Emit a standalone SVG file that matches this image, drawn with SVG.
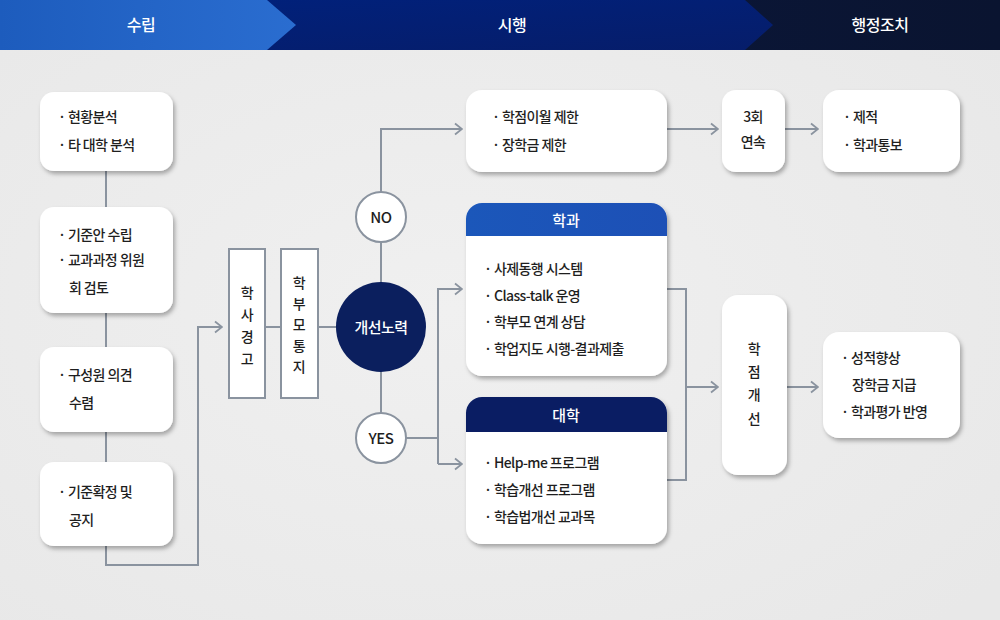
<svg xmlns="http://www.w3.org/2000/svg" width="1000" height="620" viewBox="0 0 1000 620">
<style>
text{font-family:"Noto Sans CJK KR","Noto Sans",sans-serif;}
.t{font-size:14px;font-weight:500;fill:#1e1e1e;letter-spacing:-0.6px;}
.c{text-anchor:middle;}
.h{font-size:16px;font-weight:500;fill:#ffffff;text-anchor:middle;letter-spacing:-0.5px;}
.box{fill:#ffffff;filter:url(#sh);}
.vr{fill:#ffffff;stroke:#8a939f;stroke-width:2;}
.yn{fill:#ffffff;stroke:#8a939f;stroke-width:2;}
.ln{fill:none;stroke:#8a939f;stroke-width:2;}
.ar{marker-end:url(#arr);}
</style>
<defs>
<linearGradient id="g1" x1="0" y1="0" x2="1" y2="0"><stop offset="0" stop-color="#1d5cbd"/><stop offset="1" stop-color="#2a6dd0"/></linearGradient>
<linearGradient id="g2" x1="0" y1="0" x2="1" y2="1"><stop offset="0" stop-color="#00217d"/><stop offset="1" stop-color="#061d6a"/></linearGradient>
<linearGradient id="g3" x1="0" y1="0" x2="1" y2="0"><stop offset="0" stop-color="#0b1a45"/><stop offset="1" stop-color="#0a1430"/></linearGradient>
<radialGradient id="bg" cx="0.45" cy="0.5" r="0.7"><stop offset="0" stop-color="#f0f0f0"/><stop offset="1" stop-color="#e8e8e8"/></radialGradient>
<linearGradient id="hb" x1="0" y1="0" x2="1" y2="0"><stop offset="0" stop-color="#1b57ba"/><stop offset="1" stop-color="#1d50b6"/></linearGradient>
<filter id="sh" x="-10%" y="-10%" width="125%" height="130%"><feDropShadow dx="2" dy="3" stdDeviation="2" flood-color="#000" flood-opacity="0.3"/></filter>
<marker id="arr" viewBox="0 0 10 14" refX="9" refY="7" markerWidth="10" markerHeight="14" markerUnits="userSpaceOnUse" orient="auto"><path d="M2,1.5 L9,7 L2,12.5" fill="none" stroke="#8a939f" stroke-width="1.8"/></marker>
<clipPath id="cTop1"><rect x="466" y="203" width="201" height="173" rx="16"/></clipPath>
<clipPath id="cTop2"><rect x="466" y="397" width="201" height="147" rx="16"/></clipPath>
</defs>
<rect width="1000" height="620" fill="url(#bg)"/>
<g id="header">
<rect x="0" y="0" width="1000" height="50" fill="url(#g3)"/>
<polygon points="0,0 745,0 773,25 745,50 0,50" fill="url(#g2)"/>
<polygon points="0,0 267,0 296,25 267,50 0,50" fill="url(#g1)"/>
<text class="h" x="141" y="31">수립</text>
<text class="h" x="512" y="31">시행</text>
<text class="h" x="880" y="31">행정조치</text>
</g>
<g id="connectors">
<path class="ln ar" d="M106,171 V565 H198 V327 H222"/>
<path class="ln" d="M264,327 H281 M318,327 H340"/>
<path class="ln" d="M381,192 V413"/>
<path class="ln ar" d="M381,192 V129 H462"/>
<path class="ln ar" d="M667,129 H718"/>
<path class="ln ar" d="M785,129 H818"/>
<path class="ln" d="M406,438 H438"/>
<path class="ln ar" d="M438,464 V289 H462"/>
<path class="ln ar" d="M438,464 H462"/>
<path class="ln" d="M667,289 H686 V480 H667"/>
<path class="ln ar" d="M686,387 H718"/>
<path class="ln ar" d="M787,387 H818"/>
</g>
<g id="n1"><rect class="box" x="40" y="92" width="133" height="79" rx="14"/>
<text class="t" x="58" y="122">· 현황분석</text><text class="t" x="58" y="150">· 타 대학 분석</text></g>
<g id="n2"><rect class="box" x="40" y="207" width="133" height="106" rx="14"/>
<text class="t" x="58" y="240">· 기준안 수립</text><text class="t" x="58" y="265">· 교과과정 위원</text><text class="t" x="69" y="293">회 검토</text></g>
<g id="n3"><rect class="box" x="40" y="347" width="133" height="85" rx="14"/>
<text class="t" x="58" y="380">· 구성원 의견</text><text class="t" x="69" y="408">수렴</text></g>
<g id="n4"><rect class="box" x="40" y="462" width="133" height="84" rx="14"/>
<text class="t" x="58" y="497">· 기준확정 및</text><text class="t" x="69" y="525">공지</text></g>
<g id="n5"><rect class="vr" x="229" y="249" width="36" height="149"/>
<text class="t c" x="247" y="298">학</text><text class="t c" x="247" y="320">사</text><text class="t c" x="247" y="342">경</text><text class="t c" x="247" y="364">고</text></g>
<g id="n6"><rect class="vr" x="281" y="249" width="37" height="149"/>
<text class="t c" x="299" y="288">학</text><text class="t c" x="299" y="309">부</text><text class="t c" x="299" y="330">모</text><text class="t c" x="299" y="351">통</text><text class="t c" x="299" y="372">지</text></g>
<g id="n7"><circle cx="381" cy="327" r="45" fill="#0b1f5e"/>
<text class="c" x="381" y="333" style="font-size:15px;font-weight:500;fill:#fff;letter-spacing:-0.5px">개선노력</text></g>
<g id="n8"><circle class="yn" cx="381" cy="217" r="25"/><text class="c" x="381" y="223" style="font-size:15px;font-weight:500;fill:#1e1e1e;letter-spacing:-0.5px">NO</text></g>
<g id="n9"><circle class="yn" cx="381" cy="438" r="25"/><text class="c" x="381" y="444" style="font-size:15px;font-weight:500;fill:#1e1e1e;letter-spacing:-0.5px">YES</text></g>
<g id="n10"><rect class="box" x="466" y="90" width="201" height="82" rx="16"/>
<text class="t" x="492" y="122">· 학점이월 제한</text><text class="t" x="492" y="150">· 장학금 제한</text></g>
<g id="n11"><rect class="box" x="722" y="90" width="63" height="82" rx="14"/>
<text class="t c" x="753" y="122">3회</text><text class="t c" x="753" y="147">연속</text></g>
<g id="n12"><rect class="box" x="823" y="90" width="137" height="82" rx="16"/>
<text class="t" x="843" y="122">· 제적</text><text class="t" x="843" y="150">· 학과통보</text></g>
<g id="n13"><rect class="box" x="466" y="203" width="201" height="173" rx="16"/>
<rect x="466" y="203" width="201" height="33" fill="url(#hb)" clip-path="url(#cTop1)"/>
<text class="c" x="566" y="226" style="font-size:15px;font-weight:500;fill:#fff">학과</text>
<text class="t" x="484" y="274">· 사제동행 시스템</text><text class="t" x="484" y="301">· Class-talk 운영</text><text class="t" x="484" y="327">· 학부모 연계 상담</text><text class="t" x="484" y="354">· 학업지도 시행-결과제출</text></g>
<g id="n14"><rect class="box" x="466" y="397" width="201" height="147" rx="16"/>
<rect x="466" y="397" width="201" height="35" fill="#0a1d63" clip-path="url(#cTop2)"/>
<text class="c" x="566" y="421" style="font-size:15px;font-weight:500;fill:#fff">대학</text>
<text class="t" x="484" y="468">· Help-me 프로그램</text><text class="t" x="484" y="495">· 학습개선 프로그램</text><text class="t" x="484" y="522">· 학습법개선 교과목</text></g>
<g id="n15"><rect class="box" x="722" y="295" width="65" height="180" rx="16"/>
<text class="t c" x="754" y="354">학</text><text class="t c" x="754" y="377">점</text><text class="t c" x="754" y="400">개</text><text class="t c" x="754" y="424">선</text></g>
<g id="n16"><rect class="box" x="823" y="332" width="137" height="106" rx="16"/>
<text class="t" x="841" y="363">· 성적향상</text><text class="t" x="852" y="390">장학금 지급</text><text class="t" x="841" y="417">· 학과평가 반영</text></g>
</svg>
